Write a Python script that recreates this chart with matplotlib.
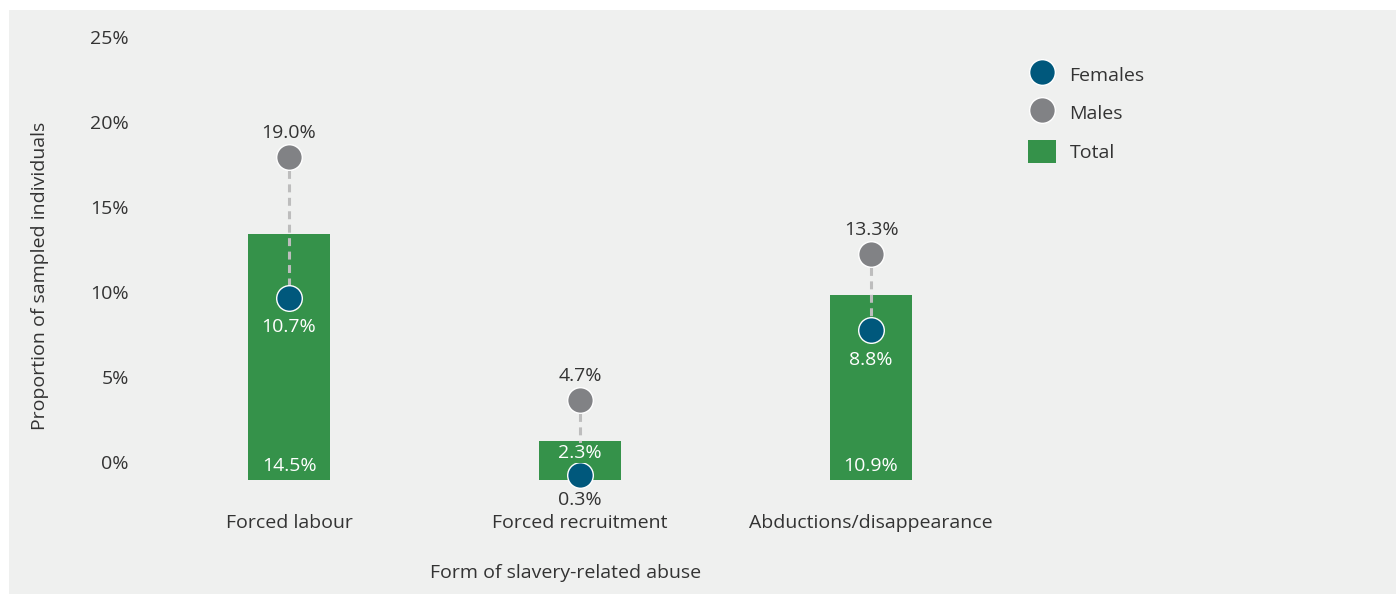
import matplotlib
matplotlib.use("Agg")
import matplotlib.pyplot as plt
from matplotlib.patches import Rectangle
from matplotlib.lines import Line2D
from matplotlib.patches import Patch
import numpy as np

categories = ["Forced labour", "Forced recruitment", "Abductions/disappearance"]
total = [14.5, 2.3, 10.9]
females = [10.7, 0.3, 8.8]
males = [19.0, 4.7, 13.3]
ytick_values = [0, 5, 10, 15, 20, 25]

GREEN = "#35924a"
FEM = "#00587c"
MALE = "#818285"
BG = "#eff0ef"
TXT = "#333333"

plt.rcParams['font.family'] = ['Open Sans', 'DejaVu Sans']

W, H = 1396, 594
fig = plt.figure(figsize=(W / 100, H / 100), dpi=100)
fig.patch.set_facecolor("white")
fig.patches.append(Rectangle((9 / W, 0), 1 - 9 / W, (H - 10) / H, transform=fig.transFigure,
                             facecolor=BG, edgecolor="none", zorder=-10))

# axes placement in pixels
px_left, px_right = 140, 1390
px_top, px_bottom = 29.5, 497
ax = fig.add_axes([px_left / W, (H - px_bottom) / H, (px_right - px_left) / W, (px_bottom - px_top) / H])
ax.set_facecolor("none")
for s in ax.spines.values():
    s.set_visible(False)

x = np.arange(len(categories))
ax.set_xlim((px_left - 289) / 291, (px_right - 289) / 291)
ax.set_ylim(-1, 26.5)

ax.bar(x, total, width=0.282, color=GREEN, zorder=1)

for i in range(len(x)):
    ax.plot([x[i], x[i]], [males[i], females[i]], color="#bdbdbd", lw=2.2,
            linestyle=(0, (2.6, 1.8)), zorder=2)

ax.scatter(x, males, s=340, color=MALE, edgecolor="white", linewidth=1.0, zorder=3)
ax.scatter(x, females, s=340, color=FEM, edgecolor="white", linewidth=1.0, zorder=3)

fs = 14
total_offsets = [14, 27, 14]
for i in range(len(x)):
    ax.annotate(f"{males[i]:.1f}%", (x[i], males[i]), xytext=(0, 17.5), textcoords="offset points",
                ha="center", va="center", fontsize=fs, color=TXT, zorder=5)
    fcol = "white" if females[i] < total[i] and females[i] > 1 else TXT
    ax.annotate(f"{females[i]:.1f}%", (x[i], females[i]), xytext=(0, -21 if fcol == "white" else -18),
                textcoords="offset points", ha="center", va="center", fontsize=fs, color=fcol, zorder=5)
    ax.annotate(f"{total[i]:.1f}%", (x[i], 0), xytext=(0, total_offsets[i] * 0.72),
                textcoords="offset points", ha="center", va="center", fontsize=fs, color="white",
                zorder=5, bbox=dict(facecolor=GREEN, edgecolor="none", pad=0.8))

ax.set_xticks(x)
ax.set_xticklabels(categories, fontsize=fs, color=TXT)
ax.set_yticks([v + 1.06 for v in ytick_values])
ax.set_yticklabels([f"{v}%" for v in ytick_values], fontsize=fs, color=TXT)
ax.tick_params(axis="both", length=0)
ax.tick_params(axis="x", pad=12)
ax.tick_params(axis="y", pad=8)

fig.text(566 / W, 1 - 573 / H, "Form of slavery-related abuse", ha="center", va="center",
         fontsize=fs, color=TXT)
fig.text(40 / W, 1 - 276 / H, "Proportion of sampled individuals", ha="center", va="center",
         rotation=90, fontsize=fs, color=TXT)

handles = [
    Line2D([], [], marker="o", linestyle="none", markersize=18.5, markerfacecolor=FEM,
           markeredgecolor="white", markeredgewidth=1.0),
    Line2D([], [], marker="o", linestyle="none", markersize=18.5, markerfacecolor=MALE,
           markeredgecolor="white", markeredgewidth=1.0),
    Patch(facecolor=GREEN, edgecolor="none"),
]
leg = fig.legend(handles, ["Females", "Males", "Total"], loc="upper left",
                 bbox_to_anchor=(1018 / W, 1 - 53 / H), frameon=False, fontsize=fs,
                 labelcolor=TXT, handlelength=1.45, handleheight=1.45, handletextpad=0.7,
                 labelspacing=0.8, borderpad=0)

fig.savefig("out.png", dpi=100, facecolor=fig.get_facecolor())
